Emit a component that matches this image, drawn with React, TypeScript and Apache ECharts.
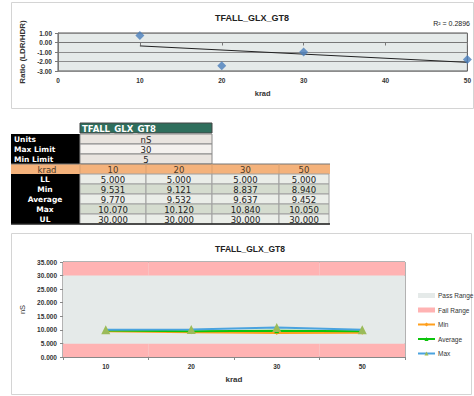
import React, { useEffect, useRef } from "react";
import * as echarts from "echarts";

// ---- Data ----
const chartTitle = "TFALL_GLX_GT8";
const ratioX = [10, 20, 30, 50];
const ratioY = [0.75, -2.45, -1.0, -1.8];
const trendX = [10, 50];
const trendY = [-0.36, -2.09];
const rSquared = "R² = 0.2896";

const kradCats = ["10", "20", "30", "50"];
const LL = [5, 5, 5, 5];
const MinV = [9.531, 9.121, 8.837, 8.94];
const AvgV = [9.77, 9.532, 9.637, 9.452];
const MaxV = [10.07, 10.12, 10.84, 10.05];
const UL = [30, 30, 30, 30];
const yMaxBottom = 35;

const units = "nS";
const maxLimit = "30";
const minLimit = "5";
const rowLabels = ["LL", "Min", "Average", "Max", "UL"];
const rowValues = [LL, MinV, AvgV, MaxV, UL];

// ---- Table drawing (graphic elements) ----
function buildTable() {
  const els: any[] = [];
  const font = "DejaVu Sans";
  const colX = [80, 146, 212, 279];
  const colW = [66, 66, 67, 50];
  const rowH = 10;
  const labX = 11;
  const labW = 69;
  const valFont = `8.5px "${font}"`;
  const labFont = `bold 7.5px "${font}"`;
  // header
  els.push({ type: "rect", shape: { x: 80, y: 123, width: 132, height: 10 }, style: { fill: "#2f6e5c", stroke: "#444", lineWidth: 1 } });
  els.push({ type: "text", x: 82, y: 128.5, style: { text: chartTitle, fill: "#ffffff", font: `bold 8.5px "${font}"`, verticalAlign: "middle" } });
  // label block top
  els.push({ type: "rect", shape: { x: labX, y: 134, width: labW, height: 30 }, style: { fill: "#000000" } });
  const topRows = [
    { lab: "Units", val: units, fill: "#e9e4df" },
    { lab: "Max Limit", val: maxLimit, fill: "#f4f1ee" },
    { lab: "Min Limit", val: minLimit, fill: "#e9e4df" },
  ];
  topRows.forEach((r, i) => {
    const y = 134 + i * rowH;
    els.push({ type: "rect", shape: { x: 80, y, width: 132, height: rowH }, style: { fill: r.fill, stroke: "#8a8a8a", lineWidth: 1 } });
    els.push({ type: "text", x: 14, y: y + 5.5, style: { text: r.lab, fill: "#fff", font: labFont, verticalAlign: "middle" } });
    els.push({ type: "text", x: 146, y: y + 5.5, style: { text: r.val, fill: "#222", font: valFont, align: "center", verticalAlign: "middle" } });
  });
  // krad row
  const ky = 164;
  els.push({ type: "rect", shape: { x: labX, y: ky, width: 319, height: rowH }, style: { fill: "#f4b27b" } });
  els.push({ type: "line", shape: { x1: labX, y1: ky, x2: 330, y2: ky }, style: { stroke: "#777", lineWidth: 1 } });
  els.push({ type: "text", x: 47, y: ky + 5.5, style: { text: "krad", fill: "#4a3a2a", font: valFont, align: "center", verticalAlign: "middle" } });
  kradCats.forEach((c, j) => {
    els.push({ type: "line", shape: { x1: colX[j], y1: ky, x2: colX[j], y2: ky + rowH }, style: { stroke: "#d9a070", lineWidth: 1 } });
    els.push({ type: "text", x: colX[j] + colW[j] / 2, y: ky + 5.5, style: { text: c, fill: "#4a3a2a", font: valFont, align: "center", verticalAlign: "middle" } });
  });
  // data rows
  const dy0 = 174;
  els.push({ type: "rect", shape: { x: labX, y: dy0, width: labW, height: rowH * 5 }, style: { fill: "#000000" } });
  rowLabels.forEach((lab, i) => {
    const y = dy0 + i * rowH;
    els.push({ type: "text", x: 45, y: y + 5.5, style: { text: lab, fill: "#fff", font: labFont, align: "center", verticalAlign: "middle" } });
    rowValues[i].forEach((v, j) => {
      els.push({ type: "rect", shape: { x: colX[j], y, width: colW[j], height: rowH }, style: { fill: i % 2 === 0 ? "#eaede8" : "#d5dccf", stroke: "#a0a0a0", lineWidth: 1 } });
      els.push({ type: "text", x: colX[j] + colW[j] / 2, y: y + 5.5, style: { text: v.toFixed(3), fill: "#222", font: valFont, align: "center", verticalAlign: "middle" } });
    });
  });
  els.push({ type: "line", shape: { x1: labX, y1: dy0 + rowH * 5, x2: 330, y2: dy0 + rowH * 5 }, style: { stroke: "#222", lineWidth: 1.5 } });
  return els;
}

export default function App() {
  const ref = useRef<HTMLDivElement>(null);
  useEffect(() => {
    const chart = echarts.init(ref.current!, null, { renderer: "svg" });
    const ff = "Liberation Sans";
    const axisLab = { fontSize: 6.5, fontWeight: "bold" as const, color: "#333", fontFamily: ff };
    const option: any = {
      animation: false,
      backgroundColor: "#ffffff",
      textStyle: { fontFamily: ff },
      title: [
        { text: chartTitle, left: 247, top: 8, textAlign: "center", textStyle: { fontSize: 9, fontWeight: "bold", color: "#222", fontFamily: ff } },
        { text: chartTitle, left: 245, top: 239, textAlign: "center", textStyle: { fontSize: 8.5, fontWeight: "bold", color: "#222", fontFamily: ff } },
      ],
      grid: [
        { left: 58, top: 33, width: 410, height: 38, show: true, backgroundColor: "#e5eae9", borderColor: "#555", borderWidth: 1 },
        { left: 63, top: 262, width: 342, height: 95, show: true, backgroundColor: "#e5eae9", borderColor: "#666", borderWidth: 1 },
      ],
      xAxis: [
        {
          gridIndex: 0, type: "value", min: 0, max: 50, interval: 10,
          name: "krad", nameLocation: "middle", nameGap: 18,
          nameTextStyle: { fontSize: 7.5, fontWeight: "bold", color: "#333", fontFamily: ff },
          axisLine: { lineStyle: { color: "#777" } },
          axisTick: { show: true, lineStyle: { color: "#777" }, length: 3 },
          axisLabel: { ...axisLab, margin: 6 },
          splitLine: { show: false },
        },
        {
          gridIndex: 1, type: "category", data: kradCats, boundaryGap: true,
          name: "krad", nameLocation: "middle", nameGap: 18,
          nameTextStyle: { fontSize: 8, fontWeight: "bold", color: "#333", fontFamily: ff },
          axisLine: { lineStyle: { color: "#888" } },
          axisTick: { show: true, lineStyle: { color: "#888" }, length: 3 },
          axisLabel: { ...axisLab, margin: 6 },
          splitLine: { show: false },
        },
      ],
      yAxis: [
        {
          gridIndex: 0, type: "value", min: -3, max: 1, interval: 1,
          name: "Ratio (LDR/HDR)", nameLocation: "middle", nameRotate: 90, nameGap: 25,
          nameTextStyle: { fontSize: 8, fontWeight: "bold", color: "#333", fontFamily: ff },
          axisLine: { show: true, lineStyle: { color: "#777" } },
          axisTick: { show: true, lineStyle: { color: "#777" }, length: 3 },
          axisLabel: { ...axisLab, margin: 6, formatter: (v: number) => v.toFixed(2) },
          splitLine: { show: true, lineStyle: { color: "#8c8c8c", width: 1 } },
        },
        {
          gridIndex: 1, type: "value", min: 0, max: yMaxBottom, interval: 5,
          name: "nS", nameLocation: "middle", nameRotate: 90, nameGap: 29,
          nameTextStyle: { fontSize: 7.5, color: "#333", fontFamily: ff },
          axisLine: { show: true, lineStyle: { color: "#888" } },
          axisTick: { show: true, lineStyle: { color: "#888" }, length: 3 },
          axisLabel: { ...axisLab, margin: 6, formatter: (v: number) => v.toFixed(3) },
          splitLine: { show: false },
        },
      ],
      legend: {
        orient: "vertical", left: 417, top: 292, width: 57, itemWidth: 17, itemHeight: 5, itemGap: 7.5,
        padding: 0,
        textStyle: { fontSize: 6.5, color: "#333", fontFamily: ff, padding: [0, 0, 0, -2] },
        data: [
          { name: "Pass Range", icon: "rect" },
          { name: "Fail Range", icon: "rect" },
          "Min", "Average", "Max",
        ],
      },
      series: [
        {
          name: "Ratio", type: "scatter", xAxisIndex: 0, yAxisIndex: 0,
          symbol: "diamond", symbolSize: 9, itemStyle: { color: "#4a7ebb" },
          data: ratioX.map((x, i) => [x, ratioY[i]]), z: 5,
        },
        {
          name: "Trend", type: "line", xAxisIndex: 0, yAxisIndex: 0, showSymbol: false,
          lineStyle: { color: "#222", width: 1 }, data: trendX.map((x, i) => [x, trendY[i]]), z: 4,
        },
        {
          name: "Fail Range", type: "bar", xAxisIndex: 1, yAxisIndex: 1, stack: "band",
          barCategoryGap: "0%", itemStyle: { color: "#ffb3b3" }, data: LL, z: 1, silent: true,
        },
        {
          name: "Pass Range", type: "bar", xAxisIndex: 1, yAxisIndex: 1, stack: "band",
          barCategoryGap: "0%", itemStyle: { color: "#e5eae9" }, data: UL.map((u, i) => u - LL[i]), z: 1, silent: true,
        },
        {
          name: "Fail Range", type: "bar", xAxisIndex: 1, yAxisIndex: 1, stack: "band",
          barCategoryGap: "0%", itemStyle: { color: "#ffb3b3" }, data: UL.map((u) => yMaxBottom - u), z: 1, silent: true,
        },
        {
          name: "Min", type: "line", xAxisIndex: 1, yAxisIndex: 1, data: MinV,
          symbol: "diamond", symbolSize: 4, itemStyle: { color: "#ff9f1c" }, lineStyle: { color: "#ff9f1c", width: 2 }, z: 3,
        },
        {
          name: "Average", type: "line", xAxisIndex: 1, yAxisIndex: 1, data: AvgV,
          symbol: "triangle", symbolSize: 5, itemStyle: { color: "#0cc40c" }, lineStyle: { color: "#0cc40c", width: 2 }, z: 3,
        },
        {
          name: "Max", type: "line", xAxisIndex: 1, yAxisIndex: 1, data: MaxV,
          symbol: "triangle", symbolSize: 9, itemStyle: { color: "#9bbb59" }, lineStyle: { color: "#4aa3df", width: 2 }, z: 3,
        },
      ],
      graphic: {
        elements: [
          { type: "rect", shape: { x: 11.5, y: 2.5, width: 462, height: 106 }, style: { fill: "none", stroke: "#d4d4d4", lineWidth: 1 }, z: -1 },
          { type: "rect", shape: { x: 11.5, y: 233.5, width: 460, height: 161 }, style: { fill: "none", stroke: "#d4d4d4", lineWidth: 1 }, z: -1 },
          { type: "text", x: 470, y: 23, style: { text: rSquared, fill: "#222", font: `7px "${ff}"`, align: "right", verticalAlign: "middle" } },
          ...buildTable(),
        ],
      },
    };
    chart.setOption(option);
    return () => chart.dispose();
  }, []);
  return <div ref={ref} style={{ position: "absolute", left: 0, top: 0, width: 474, height: 396, background: "#fff" }} />;
}
